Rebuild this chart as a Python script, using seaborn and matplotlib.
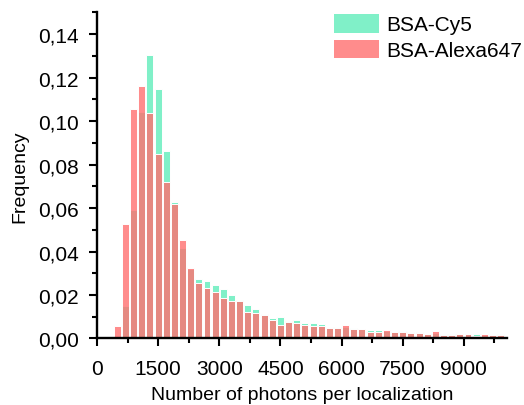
import numpy as np
import pandas as pd
import matplotlib
matplotlib.use("Agg")
import matplotlib.pyplot as plt
from matplotlib.patches import Patch
from matplotlib.ticker import MultipleLocator, FuncFormatter
import seaborn as sns

# Histogram bins: 200-photon wide, left edges from 400 to 9800
bin_left = np.arange(400, 10000, 200)

# Relative frequency per bin
cy5_freq = [
    0.0000, 0.0151, 0.0589, 0.1042, 0.1302, 0.1149, 0.0862, 0.0627,
    0.0417, 0.0318, 0.0274, 0.0263, 0.0246, 0.0228, 0.0202, 0.0177,
    0.0156, 0.0136, 0.0113, 0.0094, 0.0098, 0.0082, 0.0085, 0.0071,
    0.0069, 0.0067, 0.0053, 0.0053, 0.0053, 0.0050, 0.0042, 0.0038,
    0.0038, 0.0036, 0.0029, 0.0035, 0.0029, 0.0030, 0.0020, 0.0025,
    0.0021, 0.0021, 0.0020, 0.0021, 0.0021, 0.0017, 0.0014, 0.0019,
]
alexa_freq = [
    0.0058, 0.0527, 0.1054, 0.1161, 0.1038, 0.0850, 0.0719, 0.0619,
    0.0454, 0.0323, 0.0256, 0.0234, 0.0214, 0.0187, 0.0171, 0.0171,
    0.0122, 0.0117, 0.0108, 0.0087, 0.0062, 0.0075, 0.0071, 0.0064,
    0.0059, 0.0056, 0.0047, 0.0049, 0.0061, 0.0044, 0.0044, 0.0030,
    0.0028, 0.0041, 0.0031, 0.0028, 0.0025, 0.0025, 0.0022, 0.0035,
    0.0016, 0.0017, 0.0022, 0.0022, 0.0013, 0.0019, 0.0016, 0.0016,
]

series_names = ["BSA-Cy5", "BSA-Alexa647"]
x_ticks = [0, 1500, 3000, 4500, 6000, 7500, 9000]
y_ticks = [0.00, 0.02, 0.04, 0.06, 0.08, 0.10, 0.12, 0.14]

bin_width = 200
edges = [float(e) for e in np.append(bin_left, bin_left[-1] + bin_width)]
centers = bin_left + bin_width / 2

cy5_df = pd.DataFrame({"photons": centers, "freq": cy5_freq})
alexa_df = pd.DataFrame({"photons": centers, "freq": alexa_freq})

sns.set_style("ticks")
plt.rcParams["font.family"] = ["Liberation Sans", "DejaVu Sans"]
plt.rcParams["text.color"] = "black"
plt.rcParams["axes.labelcolor"] = "black"

green = "#80F0C8"
red = "#FF6F6F"

fig = plt.figure(figsize=(5.24, 4.06), dpi=100)
ax = fig.add_axes([0.185, 0.1638, 0.782, 0.8034])

sns.histplot(data=cy5_df, x="photons", weights="freq",
             bins=edges, color=green, alpha=1.0, shrink=0.85,
             edgecolor="white", linewidth=0.7, ax=ax)
sns.histplot(data=alexa_df, x="photons", weights="freq",
             bins=edges, color=red, alpha=0.8, shrink=0.85,
             edgecolor="white", linewidth=0.7, ax=ax)

ax.set_xlim(0, 10050)
ax.set_ylim(0, 0.15)
ax.set_xticks(x_ticks)
ax.set_yticks(y_ticks)
ax.xaxis.set_minor_locator(MultipleLocator(750))
ax.yaxis.set_minor_locator(MultipleLocator(0.01))
ax.yaxis.set_major_formatter(FuncFormatter(lambda v, p: f"{v:.2f}".replace(".", ",")))

for side in ["top", "right"]:
    ax.spines[side].set_visible(False)
for side in ["left", "bottom"]:
    ax.spines[side].set_linewidth(1.7)
    ax.spines[side].set_color("black")

ax.tick_params(which="major", direction="out", length=6, width=1.5,
               labelsize=15, colors="black")
ax.tick_params(which="minor", direction="out", length=3.5, width=1.5, colors="black")
ax.tick_params(axis="x", which="major", pad=9)
ax.tick_params(axis="y", which="major", pad=7)

ax.set_xlabel("Number of photons per localization", fontsize=14, labelpad=5.5,
              color="black")
ax.set_ylabel("Frequency", fontsize=14, labelpad=7, color="black")

handles = [Patch(facecolor=green, edgecolor="none"),
           Patch(facecolor="#FF8C8C", edgecolor="none")]
leg = ax.legend(handles, series_names, loc="upper left",
                bbox_to_anchor=(334 / 524, 1 - 15 / 406), bbox_transform=fig.transFigure,
                frameon=False, fontsize=15, borderpad=0, borderaxespad=0,
                handlelength=2.15, handleheight=0.99, handletextpad=0.38,
                labelspacing=0.26)
for t in leg.get_texts():
    t.set_color("black")

fig.savefig("out.png", dpi=100)
